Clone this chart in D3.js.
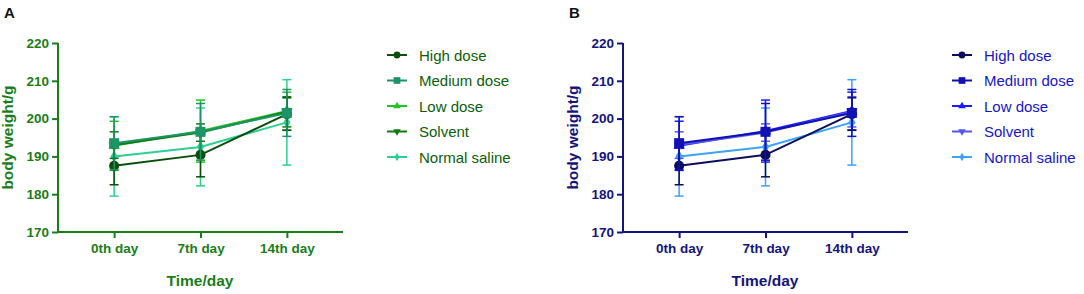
<!DOCTYPE html>
<html>
<head>
<meta charset="utf-8">
<script src="https://cdn.jsdelivr.net/npm/d3@7"></script>
<style>
  body { margin: 0; background: #fff; }
  svg { font-family: "Liberation Sans", Arial, sans-serif; display: block; }
</style>
</head>
<body>
<div id="content"></div>
<script>
const days = ["0th day", "7th day", "14th day"];
const seriesNames = ["High dose", "Medium dose", "Low dose", "Solvent", "Normal saline"];
const yTicks = [170, 180, 190, 200, 210, 220];

// mean body weight (g) per series
const highMean = [187.5, 190.4, 201.2];
const mediumMean = [193.5, 196.5, 201.5];
const lowMean = [192.8, 196.7, 202.0];
const solventMean = [193.0, 196.3, 201.8];
const salineMean = [190.0, 192.5, 199.0];

// error bar half-lengths
const highSd = [5.0, 5.8, 4.3];
const mediumSd = [7.0, 7.5, 6.2];
const lowSd = [6.5, 8.2, 5.0];
const solventSd = [3.5, 2.3, 4.0];
const salineSd = [10.5, 10.3, 11.3];

const greens = ["#0a4f0a", "#1c9466", "#22c422", "#117a11", "#2ecf90"];
const blues = ["#0c0c5c", "#1010b4", "#1a1aff", "#5555f2", "#3aa2ff"];

const series = seriesNames.map((name, i) => ({
  name,
  idx: i,
  mean: [highMean, mediumMean, lowMean, solventMean, salineMean][i],
  sd: [highSd, mediumSd, lowSd, solventSd, salineSd][i],
}));

const shapes = [
  { type: d3.symbolCircle, size: 80, rot: 0 },
  { type: d3.symbolSquare, size: 100, rot: 0 },
  { type: d3.symbolTriangle, size: 55, rot: 0 },
  { type: d3.symbolTriangle, size: 55, rot: 180 },
  { type: d3.symbolDiamond, size: 45, rot: 0 },
];

// painting order: saline underneath, medium dose on top
const drawOrder = [4, 2, 3, 0, 1];

const svg = d3.select("#content").append("svg")
  .attr("width", 1084)
  .attr("height", 294);

function drawPanel(ox, letter, colors, axisColor, legendColor) {
  const g = svg.append("g").attr("transform", `translate(${ox},0)`);

  const x = d3.scalePoint().domain(days).range([58, 343]).padding(0.65);
  const y = d3.scaleLinear().domain([170, 220]).range([232, 43]);

  g.append("text")
    .attr("x", 4).attr("y", 18)
    .attr("font-size", 15).attr("font-weight", "bold")
    .attr("fill", "#111")
    .text(letter);

  // axes
  const yAxis = g.append("g")
    .attr("transform", "translate(58,0)")
    .call(d3.axisLeft(y).tickValues(yTicks).tickSize(6).tickPadding(3));
  const xAxis = g.append("g")
    .attr("transform", "translate(0,232)")
    .call(d3.axisBottom(x).tickSize(6).tickPadding(5));
  xAxis.select(".domain").attr("d", "M58,0H343");
  yAxis.select(".domain").attr("d", "M0,43V233");
  [xAxis, yAxis].forEach((a) => {
    a.selectAll("path, line").attr("stroke", axisColor).attr("stroke-width", 2);
    a.selectAll("text")
      .attr("fill", axisColor)
      .attr("font-size", 13.5)
      .attr("font-weight", "bold")
      .attr("font-family", "Liberation Sans, Arial, sans-serif");
  });

  g.append("text")
    .attr("x", 200).attr("y", 286)
    .attr("text-anchor", "middle")
    .attr("font-size", 15.5).attr("font-weight", "bold")
    .attr("fill", axisColor)
    .text("Time/day");

  g.append("text")
    .attr("transform", "rotate(-90)")
    .attr("x", -137.5).attr("y", 13)
    .attr("text-anchor", "middle")
    .attr("font-size", 15.5).attr("font-weight", "bold")
    .attr("fill", axisColor)
    .text("body weight/g");

  const line = d3.line()
    .x((d, i) => x(days[i]))
    .y((d) => y(d));

  drawOrder.map((k) => series[k]).forEach((s) => {
    const si = s.idx;
    const c = colors[si];
    const sg = g.append("g");

    // error bars
    s.mean.forEach((m, i) => {
      const cx = x(days[i]);
      const lo = y(m - s.sd[i]);
      const hi = y(m + s.sd[i]);
      sg.append("line")
        .attr("x1", cx).attr("x2", cx).attr("y1", lo).attr("y2", hi)
        .attr("stroke", c).attr("stroke-width", 1.5);
      [lo, hi].forEach((yy) => {
        sg.append("line")
          .attr("x1", cx - 4.5).attr("x2", cx + 4.5)
          .attr("y1", yy).attr("y2", yy)
          .attr("stroke", c).attr("stroke-width", 1.5);
      });
    });

    sg.append("path")
      .datum(s.mean)
      .attr("d", line)
      .attr("fill", "none")
      .attr("stroke", c)
      .attr("stroke-width", 2);

    const sh = shapes[si];
    sg.selectAll(".pt")
      .data(s.mean)
      .enter()
      .append("path")
      .attr("d", d3.symbol().type(sh.type).size(sh.size))
      .attr("transform", (d, i) => `translate(${x(days[i])},${y(d)}) rotate(${sh.rot})`)
      .attr("fill", c);
  });

  // legend
  const legend = g.append("g").attr("transform", "translate(327,0)");
  series.forEach((s, si) => {
    const c = colors[si];
    const sh = shapes[si];
    const row = legend.append("g")
      .attr("transform", `translate(0,${55 + si * 25.5})`);
    row.append("line")
      .attr("x1", 60).attr("x2", 80)
      .attr("stroke", c).attr("stroke-width", 2);
    row.append("path")
      .attr("d", d3.symbol().type(sh.type).size(sh.size * 0.45))
      .attr("transform", `translate(70,0) rotate(${sh.rot})`)
      .attr("fill", c);
    row.append("text")
      .attr("x", 92).attr("y", 5.5)
      .attr("font-size", 15)
      .attr("fill", legendColor)
      .text(s.name);
  });
}

drawPanel(0, "A", greens, "#1a7d1a", "#0b5e0b");
drawPanel(565, "B", blues, "#14147a", "#1616c4");
</script>
</body>
</html>
